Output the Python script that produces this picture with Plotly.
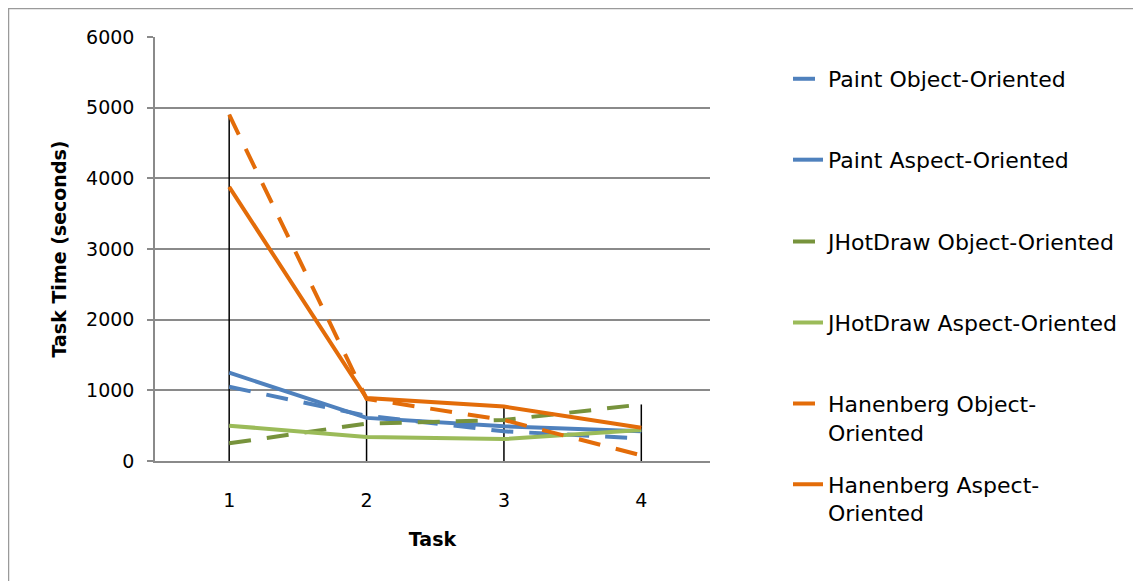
import plotly.graph_objects as go

# ---- data ----
tasks = ["1", "2", "3", "4"]
series_names = [
    "Paint Object-Oriented",
    "Paint Aspect-Oriented",
    "JHotDraw Object-Oriented",
    "JHotDraw Aspect-Oriented",
    "Hanenberg Object-<br>Oriented",
    "Hanenberg Aspect-<br>Oriented",
]
paint_oo = [1050, 640, 420, 320]
paint_ao = [1250, 610, 490, 420]
jhotdraw_oo = [250, 530, 580, 800]
jhotdraw_ao = [500, 340, 310, 440]
hanenberg_oo = [4900, 880, 580, 80]
hanenberg_ao = [3880, 890, 770, 470]
y_ticks = [0, 1000, 2000, 3000, 4000, 5000, 6000]

series_values = [paint_oo, paint_ao, jhotdraw_oo, jhotdraw_ao, hanenberg_oo, hanenberg_ao]
colors = ["#4F81BD", "#4F81BD", "#77933C", "#9BBB59", "#E36C09", "#E36C09"]
dashes = ["22px,16px", "solid", "22px,16px", "solid", "22px,16px", "solid"]

# ---- geometry helpers (screen pixels -> paper); page body adds an 8px offset ----
OFF = 8
W, H = 1141, 581
L, R, T, B = 155 - OFF, 710 - OFF, 37 - OFF, 461.5 - OFF


def px_x(x):
    return (x - OFF - L) / (R - L)


def px_y(y):
    return (B - (y - OFF)) / (B - T)


FONT = "DejaVu Sans"
fig = go.Figure()

# drop lines (from axis up to the highest value at each task)
drop_x, drop_y = [], []
for i, t in enumerate(tasks):
    mx = max(s[i] for s in series_values)
    drop_x += [t, t, None]
    drop_y += [0, mx, None]
fig.add_trace(go.Scatter(x=drop_x, y=drop_y, mode="lines",
                         line=dict(color="#000000", width=1.5),
                         showlegend=False, hoverinfo="skip"))

legend_ids = ["legend", "legend2", "legend3", "legend4", "legend5", "legend6"]
for name, vals, c, d, lg in zip(series_names, series_values, colors, dashes, legend_ids):
    fig.add_trace(go.Scatter(x=tasks, y=vals, mode="lines", name=name,
                             line=dict(color=c, width=4, dash=d),
                             legend=lg))

# legend placement: first-line centers in the reference
legend_centers = [78, 159, 241, 322, 403, 484]
legend_cfg = {}
for lg, yc in zip(legend_ids, legend_centers):
    legend_cfg[lg] = dict(
        x=px_x(788), y=px_y(yc - 20), xanchor="left", yanchor="top",
        valign="top", bgcolor="rgba(0,0,0,0)", borderwidth=0,
        font=dict(family=FONT, size=22, color="#000000"),
        itemwidth=30,
    )

fig.update_layout(
    width=W, height=H,
    margin=dict(l=L, r=W - R, t=T, b=H - B),
    paper_bgcolor="white", plot_bgcolor="white",
    font=dict(family=FONT, size=19, color="#000000"),
    **legend_cfg,
    shapes=[dict(type="rect", xref="paper", yref="paper",
                 x0=px_x(8.5), y0=px_y(640), x1=px_x(1200), y1=px_y(8.5),
                 line=dict(color="#9a9a9a", width=1.5), fillcolor="rgba(0,0,0,0)",
                 layer="below")],
)

fig.update_xaxes(
    type="category", categoryorder="array", categoryarray=tasks,
    range=[-0.54, 3.5],
    showgrid=False, zeroline=False,
    showline=True, linecolor="#8a8a8a", linewidth=1.5,
    ticks="", ticklabelstandoff=21,
    tickfont=dict(family=FONT, size=19, color="#000000"),
    title=dict(text="<b>Task</b>", font=dict(family=FONT, size=19, color="#000000"), standoff=23),
)
fig.update_yaxes(
    range=[0, 6000], tickvals=y_ticks, ticktext=[str(v) for v in y_ticks],
    showgrid=True, gridcolor="#8a8a8a", gridwidth=1.5,
    zeroline=False,
    showline=True, linecolor="#8a8a8a", linewidth=1.5,
    ticks="outside", ticklen=6, tickcolor="#8a8a8a", tickwidth=1.5,
    ticklabelstandoff=9,
    tickfont=dict(family=FONT, size=19, color="#000000"),
    title=dict(text="<b>Task Time (seconds)</b>", font=dict(family=FONT, size=19, color="#000000"), standoff=14),
)

fig.write_html("out.html")
